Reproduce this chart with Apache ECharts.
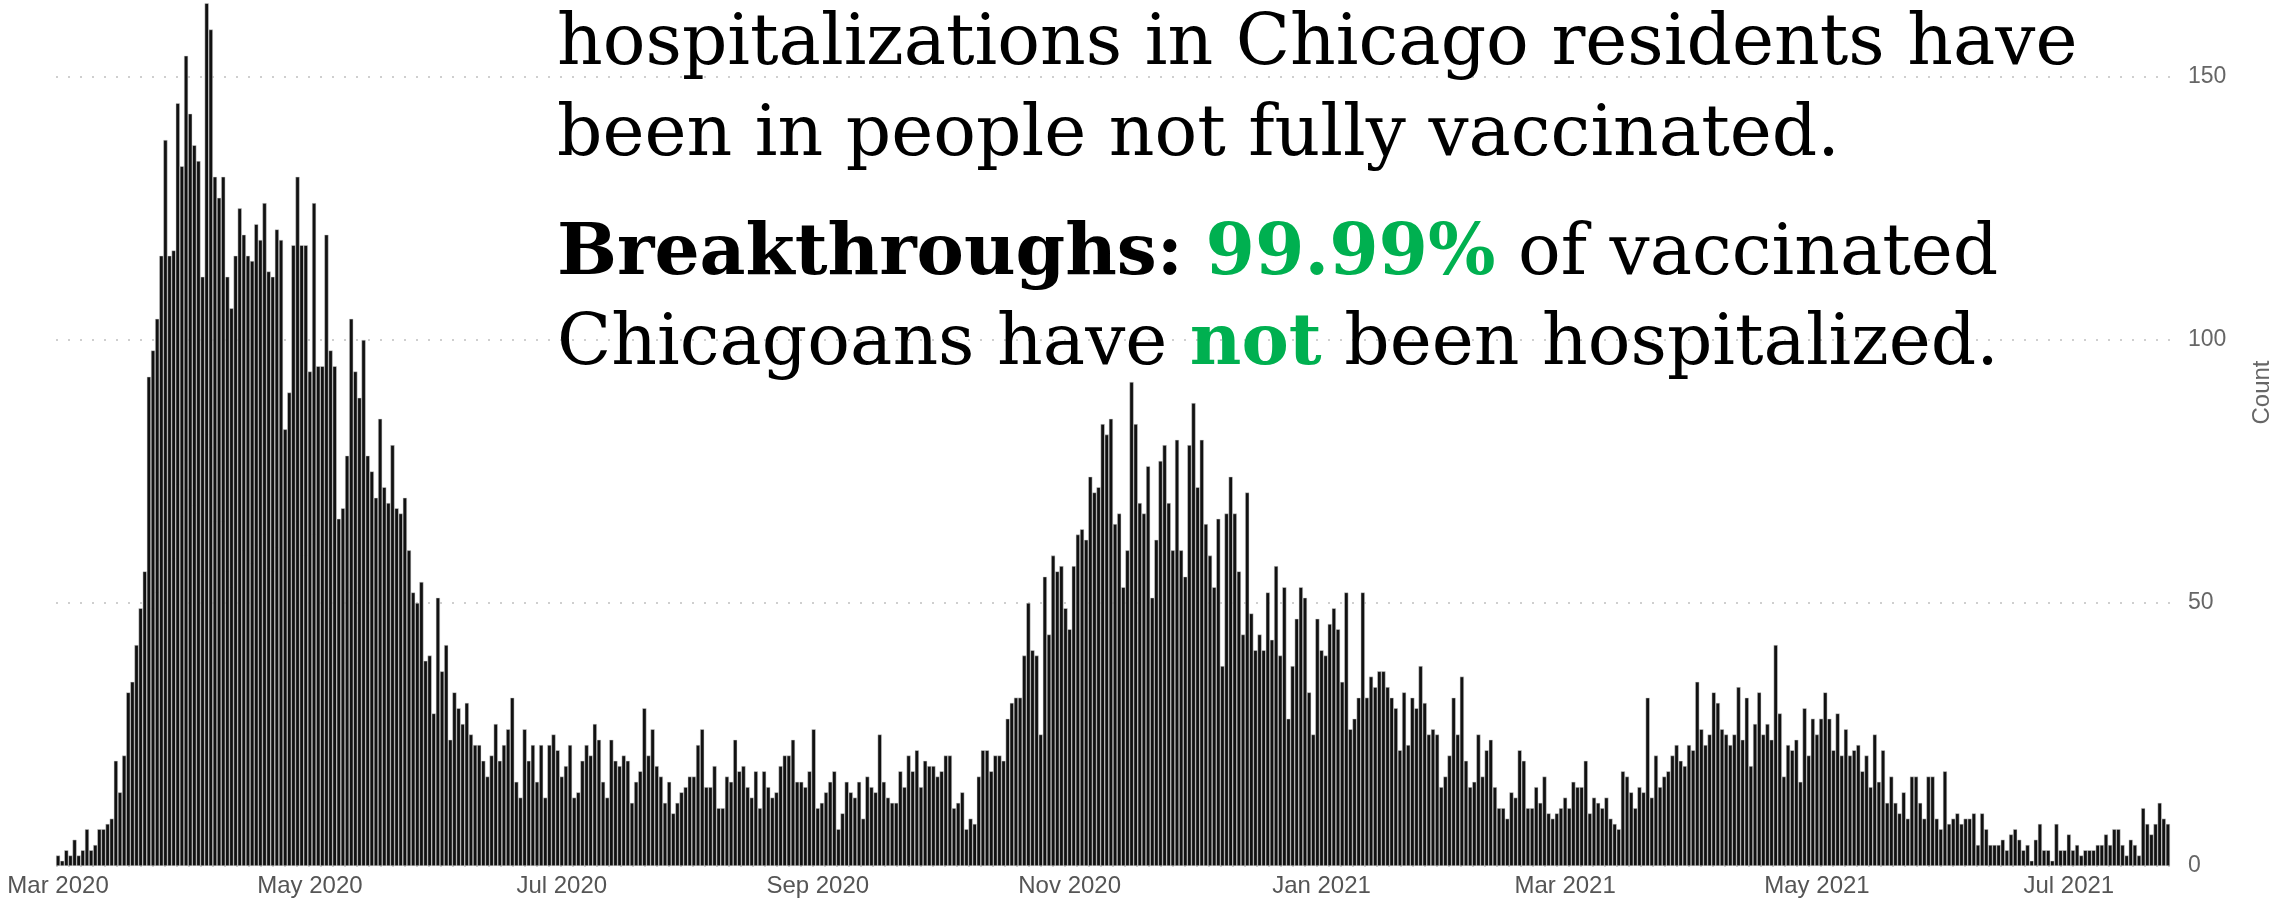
<!DOCTYPE html>
<html>
<head>
<meta charset="utf-8">
<title>Chicago hospitalizations</title>
<script src="https://cdn.jsdelivr.net/npm/echarts@6/dist/echarts.min.js"></script>
<style>
  html, body { margin: 0; padding: 0; background: #fff; }
  #chart { width: 2270px; height: 905px; }
</style>
</head>
<body>
<div id="chart"></div>
<script>
// daily counts, one bar per day from 2020-03-01
const startDate = '2020-03-01';

const countsMarApr2020 = [2, 1, 3, 2, 5, 2, 3, 7, 3, 4, 7, 7, 8, 9, 20, 14, 21, 33, 35, 42, 49, 56, 93, 98,
  104, 116, 138, 116, 117, 145, 133, 154, 143, 137, 134, 112, 164, 159, 131, 127, 131, 112, 106, 116, 125, 120, 116];
const countsAprMay2020 = [115, 122, 119, 126, 113, 112, 121, 119, 83, 90, 118, 131, 118, 118, 94, 126, 95, 95, 120,
  98, 95, 66, 68, 78, 104, 94, 89, 100, 78, 75, 70, 85, 72, 69, 80, 68, 67, 70, 60, 52, 50, 54, 39, 40, 29, 51];
const countsJunAug2020 = [37, 42, 24, 33, 30, 27, 31, 25, 23, 23, 20, 17, 21, 27, 20, 23, 26, 32, 16, 13, 26, 20,
  23, 16, 23, 13, 23, 25, 22, 17, 19, 23, 13, 14, 20, 23, 21, 27, 24, 16, 13, 24, 20, 19, 21, 20, 12, 16, 18, 30,
  21, 26, 19, 17, 12, 16, 10, 12, 14, 15, 17, 17, 23, 26, 15, 15, 19, 11, 11, 17, 16, 24, 18];
const countsAugOct2020 = [19, 15, 13, 18, 11, 18, 15, 13, 14, 19, 21, 21, 24, 16, 16, 15, 18, 26, 11, 12, 14, 16,
  18, 7, 10, 16, 14, 13, 16, 9, 17, 15, 14, 25, 16, 13, 12, 12, 18, 15, 21, 18, 22, 15, 20, 19, 19, 17, 18, 21,
  21, 11, 12, 14, 7, 9, 8, 17, 22, 22, 18, 21, 21, 20, 28, 31, 32, 32];
const countsOctDec2020 = [40, 50, 41, 40, 25, 55, 44, 59, 56, 57, 49, 45, 57, 63, 64, 62, 74, 71, 72, 84, 82, 85,
  65, 67, 53, 60, 92, 84, 69, 67, 76, 51, 62, 77, 80, 69, 60, 81, 60, 55, 80, 88, 72, 81, 65, 59, 53, 66, 38, 67,
  74, 67, 56, 44, 71, 48, 41, 44, 41, 52, 43, 57, 40, 53, 28, 38, 47, 53, 51, 33];
const countsDecMar2021 = [25, 47, 41, 40, 46, 49, 45, 35, 52, 26, 28, 32, 52, 32, 36, 34, 37, 37, 34, 32, 30, 22,
  33, 23, 32, 30, 38, 31, 25, 26, 25, 15, 17, 21, 32, 25, 36, 20, 15, 16, 25, 17, 22, 24, 15, 11, 11, 9, 14, 13,
  22, 20, 11, 11, 15, 12, 17, 10, 9, 10, 11, 13, 11, 16, 15, 15, 20, 10, 13, 12, 11];
const countsMarMay2021 = [13, 9, 8, 7, 18, 17, 14, 11, 15, 14, 32, 13, 21, 15, 17, 18, 21, 23, 20, 19, 23, 22, 35,
  26, 23, 25, 33, 31, 26, 25, 23, 25, 34, 24, 32, 19, 27, 33, 25, 27, 24, 42, 29, 17, 23, 22, 24, 16, 30, 21, 28,
  25, 28, 33, 28, 22, 29, 21, 26, 21, 22, 23, 18, 21, 15, 25, 16, 22, 12, 17, 12, 10];
const countsMayJul2021 = [14, 9, 17, 17, 12, 9, 17, 17, 9, 7, 18, 8, 9, 10, 8, 9, 9, 10, 4, 10, 7, 4, 4, 4, 5, 3,
  6, 7, 5, 3, 4, 1, 5, 8, 3, 3, 1, 8, 3, 3, 6, 3, 4, 2, 3, 3, 3, 4, 4, 6, 4, 7, 7, 4, 2, 5, 4, 2, 11, 8, 6, 8, 12, 9, 8];

const counts = [].concat(countsMarApr2020, countsAprMay2020, countsJunAug2020, countsAugOct2020,
  countsOctDec2020, countsDecMar2021, countsMarMay2021, countsMayJul2021);

// x axis labels
const tickDates = ['2020-03-01', '2020-05-01', '2020-07-01', '2020-09-01', '2020-11-01',
  '2021-01-01', '2021-03-01', '2021-05-01', '2021-07-01'];
const tickLabels = ['Mar 2020', 'May 2020', 'Jul 2020', 'Sep 2020', 'Nov 2020',
  'Jan 2021', 'Mar 2021', 'May 2021', 'Jul 2021'];

// one category per day
const days = [];
const t0 = Date.parse(startDate + 'T00:00:00Z');
for (let i = 0; i < counts.length; i++) {
  days.push(new Date(t0 + i * 86400000).toISOString().slice(0, 10));
}

const serif = 'DejaVu Serif';
const green = '#00b050';
const fs = 71;

const chart = echarts.init(document.getElementById('chart'));
chart.setOption({
  animation: false,
  backgroundColor: '#fff',
  title: [
    {
      text: 'hospitalizations in Chicago residents have\nbeen in people not fully vaccinated.',
      left: 557, top: 0, padding: 0,
      textStyle: { fontFamily: serif, fontSize: fs, fontWeight: 'normal', color: '#000', lineHeight: 91 }
    },
    {
      text: '{b|Breakthroughs:} {g|99.99%} of vaccinated\nChicagoans have {g|not} been hospitalized.',
      left: 557, top: 211, padding: 0,
      textStyle: {
        fontFamily: serif, fontSize: fs, fontWeight: 'normal', color: '#000', lineHeight: 90,
        rich: {
          b: { fontFamily: serif, fontSize: fs, fontWeight: 'bold', color: '#000', lineHeight: 90 },
          g: { fontFamily: serif, fontSize: fs, fontWeight: 'bold', color: green, lineHeight: 90 }
        }
      }
    }
  ],
  grid: { left: 56, right: 100, top: -81, bottom: 39, outerBoundsMode: 'none' },
  xAxis: {
    type: 'category',
    data: days,
    boundaryGap: true,
    axisLine: { show: false },
    axisTick: { show: false },
    splitLine: { show: false },
    axisLabel: {
      interval: function (idx, val) { return tickDates.indexOf(val) >= 0; },
      formatter: function (val) { return tickLabels[tickDates.indexOf(val)]; },
      color: '#555', fontSize: 24, fontFamily: 'Liberation Sans', margin: 8
    }
  },
  yAxis: {
    type: 'value',
    position: 'right',
    min: 0, max: 180, interval: 50,
    name: 'Count',
    nameLocation: 'middle',
    nameRotate: 90,
    nameGap: 80,
    nameTextStyle: { color: '#666', fontSize: 24, fontFamily: 'Liberation Sans' },
    axisLine: { show: false },
    axisTick: { show: false },
    axisLabel: { color: '#666', fontSize: 23, fontFamily: 'Liberation Sans', margin: 18, showMaxLabel: false },
    splitLine: { lineStyle: { color: '#cfcfcf', width: 2, type: [2, 10] } }
  },
  series: [{
    type: 'bar',
    data: counts,
    barCategoryGap: '0%',
    itemStyle: { color: '#111', borderColor: '#d8d8d8', borderWidth: 0.5 }
  }]
});
</script>
</body>
</html>
